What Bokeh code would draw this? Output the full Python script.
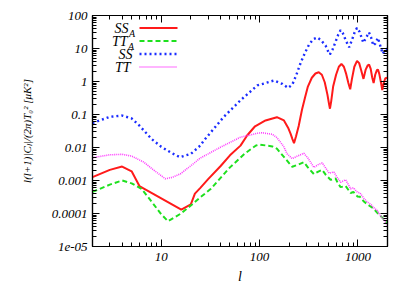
from bokeh.plotting import figure
from bokeh.models import (FixedTicker, CustomJSTickFormatter, LogAxis, Arrow,
                          Label, Range1d)
from bokeh.embed import file_html
from bokeh.resources import INLINE

# ---------------- data ----------------
ell_ss_a = [2, 3, 4, 5, 6, 16, 20, 22, 25, 30, 40, 50, 64, 75, 90, 115, 150, 177, 195, 207,
            216, 224, 235, 250, 270, 290, 310, 340, 370, 400, 430, 460, 490, 510, 520, 535,
            560, 600, 640, 680, 720, 760, 800, 835, 870, 920, 980, 1030, 1080, 1140, 1200,
            1260, 1300, 1350, 1400, 1445, 1500, 1560, 1600, 1650, 1720, 1770, 1830, 1900, 2000]
ss_a = [1.26e-3, 2.1e-3, 2.65e-3, 1.9e-3, 6.8e-4, 1.32e-4, 1.9e-4, 4.0e-4, 6.0e-4, 1.1e-3,
        2.7e-3, 5.8e-3, 0.0114, 0.0235, 0.044, 0.066, 0.083, 0.066, 0.04, 0.026,
        0.018, 0.0135, 0.022, 0.045, 0.14, 0.33, 0.7, 1.3, 1.75, 1.9, 1.6, 0.95,
        0.4, 0.2, 0.15, 0.25, 0.7, 1.6, 2.8, 3.4, 2.8, 1.7, 0.9, 0.58, 1.2, 2.8,
        4.2, 3.6, 2.2, 1.2, 2.3, 3.1, 3.25, 2.4, 1.3, 0.9, 1.6, 2.2, 2.3, 1.7,
        0.9, 0.55, 0.9, 1.25, 1.3]

ell_tt_a = [2, 3, 4, 5, 6.3, 7.8, 10, 11.7, 14, 15.7, 20, 25, 32, 50, 71, 92, 100, 135, 150,
            184, 215, 245, 282, 310, 357, 400, 434, 470, 527, 593, 630, 667, 750, 843,
            900, 987, 1050, 1150, 1250, 1455, 1575, 1700, 1850, 2000]
tt_a = [4.5e-4, 7.5e-4, 1.0e-3, 8.2e-4, 5.6e-4, 2.5e-4, 9.5e-5, 5.85e-5, 8.0e-5, 9.8e-5,
        1.75e-4, 3.1e-4, 5.6e-4, 2.5e-3, 6.6e-3, 0.0115, 0.0123, 0.0108, 0.0092,
        4.5e-3, 2.6e-3, 3.0e-3, 3.6e-3, 2.5e-3, 1.56e-3, 1.9e-3, 2.1e-3, 1.5e-3,
        1.05e-3, 1.15e-3, 8.0e-4, 6.3e-4, 6.8e-4, 4.2e-4, 4.5e-4, 3.3e-4, 3.2e-4,
        2.3e-4, 1.9e-4, 1.39e-4, 1.05e-4, 8.5e-5, 6.5e-5, 4.9e-5]

ell_ss = [2, 3, 4, 5, 6, 8, 10, 13, 15.5, 20, 25, 27, 35, 43, 64, 95, 140, 170, 195, 215,
          235, 261, 290, 318, 350, 386, 420, 469, 500, 519, 550, 593, 630, 667, 700, 750,
          815, 870, 930, 980, 1040, 1135, 1200, 1295, 1360, 1435, 1500, 1597, 1690, 1790,
          1880, 2000]
ss = [0.055, 0.085, 0.093, 0.076, 0.046, 0.018, 0.0105, 0.0066, 0.0051, 0.0064, 0.0115,
      0.016, 0.04, 0.083, 0.27, 0.76, 1.07, 0.85, 0.64, 0.8, 1.5, 3.6, 7.5, 13, 19, 21.5,
      18, 12.3, 8, 6.6, 9, 16, 26, 36, 30, 18, 10.9, 18, 32, 42, 32, 15, 20, 31, 22,
      12.3, 14, 21, 12, 6.9, 9, 10]

ell_tt = [2, 3, 4, 5, 6.65, 8, 11, 13, 15.7, 20, 25, 30, 40, 64, 95, 106, 135, 150, 175,
          191, 215, 240, 282, 310, 357, 400, 434, 470, 510, 570, 620, 667, 750, 800, 843,
          900, 987, 1050, 1150, 1250, 1350, 1450, 1575, 1700, 1850, 2000]
tt = [4.9e-3, 6.0e-3, 6.2e-3, 5.5e-3, 3.6e-3, 2.3e-3, 1.13e-3, 1.25e-3, 1.6e-3, 2.8e-3,
      4.8e-3, 6.4e-3, 0.0102, 0.0205, 0.027, 0.028, 0.025, 0.020, 0.011, 6.4e-3,
      4.6e-3, 5.4e-3, 6.7e-3, 4.8e-3, 2.5e-3, 3.1e-3, 3.4e-3, 2.4e-3, 1.67e-3,
      1.8e-3, 1.2e-3, 8.9e-4, 1.05e-3, 7.5e-4, 5.6e-4, 6.0e-4, 4.4e-4, 4.2e-4,
      2.9e-4, 2.2e-4, 1.9e-4, 1.5e-4, 1.23e-4, 8.5e-5, 6.2e-5, 4.33e-5]

x_ticks = [1, 10, 100, 1000, 10000]
x_tick_labels = ["1", "10", "100", "1000", "10000"]
y_ticks = [1e-5, 1e-4, 1e-3, 1e-2, 1e-1, 1, 10, 100]
y_tick_labels = ["1e-05", "0.0001", "0.001", "0.01", "0.1", "1", "10", "100"]
legend_names = ["SS", "TT", "SS", "TT"]
legend_subs = ["A", "A", "", ""]

FONT = "Liberation Serif"
COLORS = ["#ff1a1a", "#1ee01e", "#1a2cff", "#ff3cff"]
WIDTHS = [2, 2, 2.4, 1.6]
DASHES = ["solid", "5 3", "2 3", "1 1"]

x_minor = [m * 10 ** k for k in range(0, 4) for m in range(2, 10)]
y_minor = [m * 10.0 ** k for k in range(-5, 2) for m in range(2, 10)]

p = figure(width=400, height=286, x_axis_type="log", y_axis_type="log",
           x_range=Range1d(2, 2000), y_range=Range1d(1e-5, 100),
           output_backend="svg", toolbar_location=None,
           min_border_left=92, min_border_right=13, min_border_top=15, min_border_bottom=40)
p.grid.visible = False
p.outline_line_color = "black"
p.outline_line_width = 1.2

series = [(ell_ss_a, ss_a), (ell_tt_a, tt_a), (ell_ss, ss), (ell_tt, tt)]
for (xs, ys), c, w, d in zip(series, COLORS, WIDTHS, DASHES):
    p.line(xs, ys, line_color=c, line_width=w, line_dash=d)

fmt_code = """
let best = 0, bd = Infinity;
for (let i = 0; i < vals.length; i++) {
  const d = Math.abs(Math.log10(tick) - Math.log10(vals[i]));
  if (d < bd) { bd = d; best = i; }
}
return labs[best];
"""
blank = CustomJSTickFormatter(code="return '';")

bottom = p.below[0]
left = p.left[0]
top = LogAxis()
right = LogAxis()
p.add_layout(top, "above")
p.add_layout(right, "right")

bottom.ticker = FixedTicker(ticks=x_ticks, minor_ticks=x_minor)
top.ticker = FixedTicker(ticks=x_ticks, minor_ticks=x_minor)
left.ticker = FixedTicker(ticks=y_ticks, minor_ticks=y_minor)
right.ticker = FixedTicker(ticks=y_ticks, minor_ticks=y_minor)
bottom.formatter = CustomJSTickFormatter(args=dict(vals=x_ticks, labs=x_tick_labels), code=fmt_code)
left.formatter = CustomJSTickFormatter(args=dict(vals=y_ticks, labs=y_tick_labels), code=fmt_code)
top.formatter = blank
right.formatter = blank

for ax in [bottom, left, top, right]:
    ax.major_tick_in = 7
    ax.major_tick_out = 0
    ax.minor_tick_in = 4
    ax.minor_tick_out = 0
    ax.major_tick_line_color = "black"
    ax.minor_tick_line_color = "black"
    ax.axis_line_color = "black"
    ax.axis_line_width = 1.2
    ax.major_label_text_font = FONT
    ax.major_label_text_font_style = "italic"
    ax.major_label_text_font_size = "13px"
    ax.major_label_text_color = "black"
top.major_label_standoff = 0
right.major_label_standoff = 0
bottom.major_label_standoff = 6
left.major_label_standoff = 5

left.axis_label = "l(l+1)|C\u2097|/(2\u03c0)T\u2080\u00b2 [\u03bcK\u00b2]"
left.axis_label_text_font = FONT
left.axis_label_text_font_style = "italic"
left.axis_label_text_font_size = "11px"
left.axis_label_text_color = "black"
left.axis_label_standoff = 16

bottom.axis_label = "l"
bottom.axis_label_text_font = FONT
bottom.axis_label_text_font_style = "italic"
bottom.axis_label_text_font_size = "14px"
bottom.axis_label_text_color = "black"
bottom.axis_label_standoff = 5

# legend: text right-aligned, then a line sample to its right
row_y = [218.5, 205.5, 192.5, 179.5]
row_right = [36, 35, 40, 38]
for name, sub, yy, xr, c, w, d in zip(legend_names, legend_subs, row_y, row_right,
                                      COLORS, WIDTHS, DASHES):
    p.add_layout(Label(x=xr, y=yy, x_units="screen", y_units="screen", text=name,
                       text_font=FONT, text_font_style="italic", text_font_size="14px",
                       text_align="right", text_baseline="middle", text_color="black"))
    if sub:
        p.add_layout(Label(x=xr + 0.5, y=yy - 5, x_units="screen", y_units="screen", text=sub,
                           text_font=FONT, text_font_style="italic", text_font_size="10px",
                           text_align="left", text_baseline="middle", text_color="black"))
    p.add_layout(Arrow(end=None, x_start=47, y_start=yy, x_end=85, y_end=yy,
                       start_units="screen", end_units="screen",
                       line_color=c, line_width=w, line_dash=d))

open("out.html", "w").write(file_html(p, INLINE))
